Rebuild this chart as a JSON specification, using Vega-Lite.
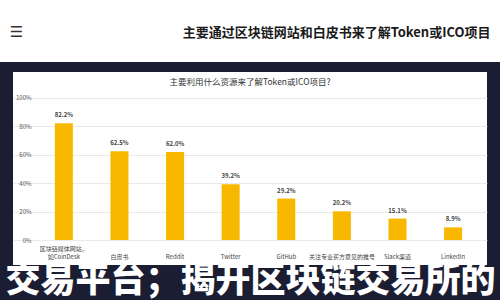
{
  "$schema": "https://vega.github.io/schema/vega-lite/v6.json",
  "background": "#1b1e33",
  "padding": {"left": 0, "top": 0, "right": 0, "bottom": 3},
  "spacing": 10,
  "center": true,
  "bounds": "flush",
  "config": {"font": "Noto Sans CJK SC", "view": {"stroke": null}},
  "vconcat": [
    {
      "width": 500,
      "height": 62,
      "view": {"fill": "white", "stroke": null},
      "data": {"values": [{"k": "", "v": 0}]},
      "mark": {"type": "point", "opacity": 0},
      "encoding": {
        "x": {"field": "k", "type": "nominal", "axis": {"orient": "top", "title": "主要通过区块链网站和白皮书来了解Token或ICO项目", "labels": false, "ticks": false, "domain": false, "titleX": 490, "titleY": 32, "titleAlign": "right", "titleBaseline": "middle", "titleFontSize": 13, "titleFontWeight": "bold", "titleColor": "#1a1a1a"}},
        "y": {"field": "v", "type": "quantitative", "axis": {"title": "☰", "labels": false, "ticks": false, "domain": false, "grid": false, "titleAngle": 0, "titleX": 16, "titleY": 31, "titleAlign": "center", "titleBaseline": "middle", "titleFontSize": 15, "titleFontWeight": "normal", "titleColor": "#333333", "titleFont": "DejaVu Sans"}}
      }
    },
    {
      "width": 474,
      "height": 193,
      "view": {"fill": "white", "stroke": null},
      "title": {"text": "主要利用什么资源来了解Token或ICO项目?", "fontSize": 8.5, "fontWeight": "normal", "color": "#333333", "anchor": "middle", "offset": -14},
      "data": {"values": [
        {"source": "区块链媒体网站，如CoinDesk", "share": 0.822},
        {"source": "白皮书", "share": 0.625},
        {"source": "Reddit", "share": 0.620},
        {"source": "Twitter", "share": 0.392},
        {"source": "GitHub", "share": 0.292},
        {"source": "关注专业买方意见的推号", "share": 0.202},
        {"source": "Slack渠道", "share": 0.151},
        {"source": "LinkedIn", "share": 0.089}
      ]},
      "encoding": {
        "x": {"field": "source", "type": "nominal", "sort": null,
          "scale": {"paddingInner": 0.676, "paddingOuter": 0.6, "align": 0.627},
          "axis": {"orient": "bottom", "offset": -8, "ticks": false, "tickSize": 0, "domain": false, "labelAngle": 0, "labelFontSize": 6, "labelColor": "#444444", "labelBaseline": "bottom",
            "labelPadding": {"condition": {"test": "datum.value == '区块链媒体网站，如CoinDesk'", "value": -5.5}, "value": 2},
            "labelLineHeight": 7.5, "labelOverlap": false,
            "labelExpr": "datum.value == '区块链媒体网站，如CoinDesk' ? ['区块链媒体网站，', '如CoinDesk'] : datum.label",
            "title": "交易平台；揭开区块链交易所的", "titleFontSize": 35, "titleFontWeight": 900, "titleColor": "#ffffff", "titleX": 237, "titleY": 23, "titleAlign": "center", "titleBaseline": "middle"}},
        "y": {"field": "share", "type": "quantitative",
          "scale": {"domain": [-0.176, 1.183], "nice": false, "zero": false},
          "axis": {"values": [0, 0.2, 0.4, 0.6, 0.8, 1], "format": ".0%", "offset": -20, "ticks": false, "tickSize": 0, "domain": false, "labelOverlap": false, "labelFontSize": 6, "labelColor": "#555555", "labelPadding": 2, "gridColor": "#e3e3e3", "gridWidth": 0.8, "title": null}}
      },
      "layer": [
        {
          "mark": {"type": "bar", "color": "#f8b800"},
          "encoding": {
            "y2": {"datum": 0}
          }
        },
        {
          "mark": {"type": "text", "dy": -8, "fontSize": 6, "fontWeight": "bold", "color": "#444444"},
          "encoding": {
            "text": {"field": "share", "type": "quantitative", "format": ".1%"}
          }
        }
      ]
    }
  ]
}
